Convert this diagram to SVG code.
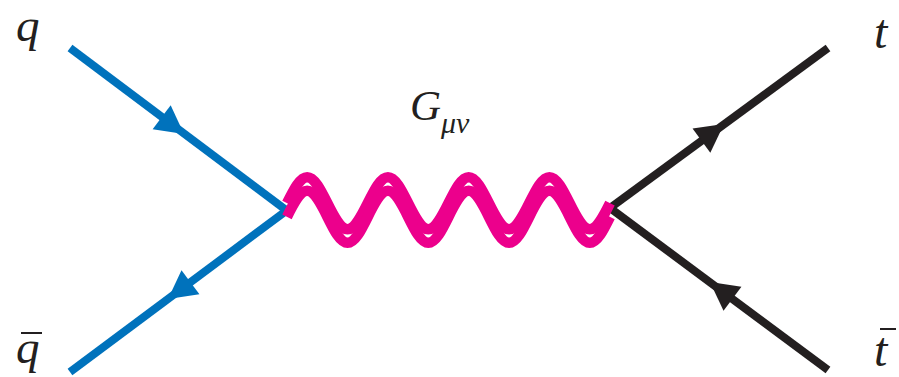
<svg xmlns="http://www.w3.org/2000/svg" xmlns:xlink="http://www.w3.org/1999/xlink" width="899" height="377" viewBox="0 0 899 377">
<style>
.lbl{font-family:"Liberation Serif","Times New Roman",serif;font-style:italic;fill:#231f20}
.quark{stroke:#0072bc;stroke-width:8;fill:none}
.top{stroke:#231f20;stroke-width:8;fill:none}
.wave{stroke:#ec008c;stroke-width:10.5;fill:none}
</style>
<defs>
<path id="ah" d="M0,0 L-28,-15 L-28,15 Z"/>
<path id="wv" d="M287,210 c6.584,-13.32 12.881,-26 20.188,-26 c7.306,0 13.603,12.68 20.188,26 c6.584,13.32 12.881,26 20.188,26 c7.306,0 13.603,-12.68 20.188,-26 c6.584,-13.32 12.881,-26 20.188,-26 c7.306,0 13.603,12.68 20.188,26 c6.584,13.32 12.881,26 20.188,26 c7.306,0 13.603,-12.68 20.188,-26 c6.584,-13.32 12.881,-26 20.188,-26 c7.306,0 13.603,12.68 20.188,26 c6.584,13.32 12.881,26 20.188,26 c7.306,0 13.603,-12.68 20.188,-26 c6.584,-13.32 12.881,-26 20.188,-26 c7.306,0 13.603,12.68 20.188,26 c6.584,13.32 12.881,26 20.188,26 c7.306,0 13.603,-12.68 20.188,-26"/>
</defs>
<g id="connectors">
<line class="quark" x1="70" y1="48" x2="286" y2="210"/>
<line class="quark" x1="286" y1="211" x2="70" y2="372"/>
<line class="top" x1="610" y1="208" x2="828" y2="48"/>
<line class="top" x1="610" y1="208" x2="828" y2="370"/>
<use xlink:href="#ah" href="#ah" fill="#0072bc" transform="translate(184,134) rotate(37)"/>
<use xlink:href="#ah" href="#ah" fill="#0072bc" transform="translate(168,299) rotate(143.3)"/>
<use xlink:href="#ah" href="#ah" fill="#231f20" transform="translate(724,124) rotate(-36.3)"/>
<use xlink:href="#ah" href="#ah" fill="#231f20" transform="translate(710,282) rotate(216.6)"/>
<g id="graviton">
<use xlink:href="#wv" href="#wv" class="wave" transform="translate(0,-6.8)"/>
<use xlink:href="#wv" href="#wv" class="wave" transform="translate(0,6.8)"/>
</g>
</g>
<g id="q"><text class="lbl" x="16" y="41" font-size="47">q</text></g>
<g id="qbar"><text class="lbl" x="16" y="363" font-size="47">q</text><line x1="21" y1="333" x2="42" y2="333" stroke="#231f20" stroke-width="2"/></g>
<g id="t"><text class="lbl" x="874" y="48" font-size="48">t</text></g>
<g id="tbar"><text class="lbl" x="874" y="366" font-size="48">t</text><line x1="880" y1="329" x2="896" y2="329" stroke="#231f20" stroke-width="2"/></g>
<g id="G"><text class="lbl" x="410" y="120" font-size="43">G<tspan font-size="30" dy="13">μν</tspan></text></g>
</svg>
